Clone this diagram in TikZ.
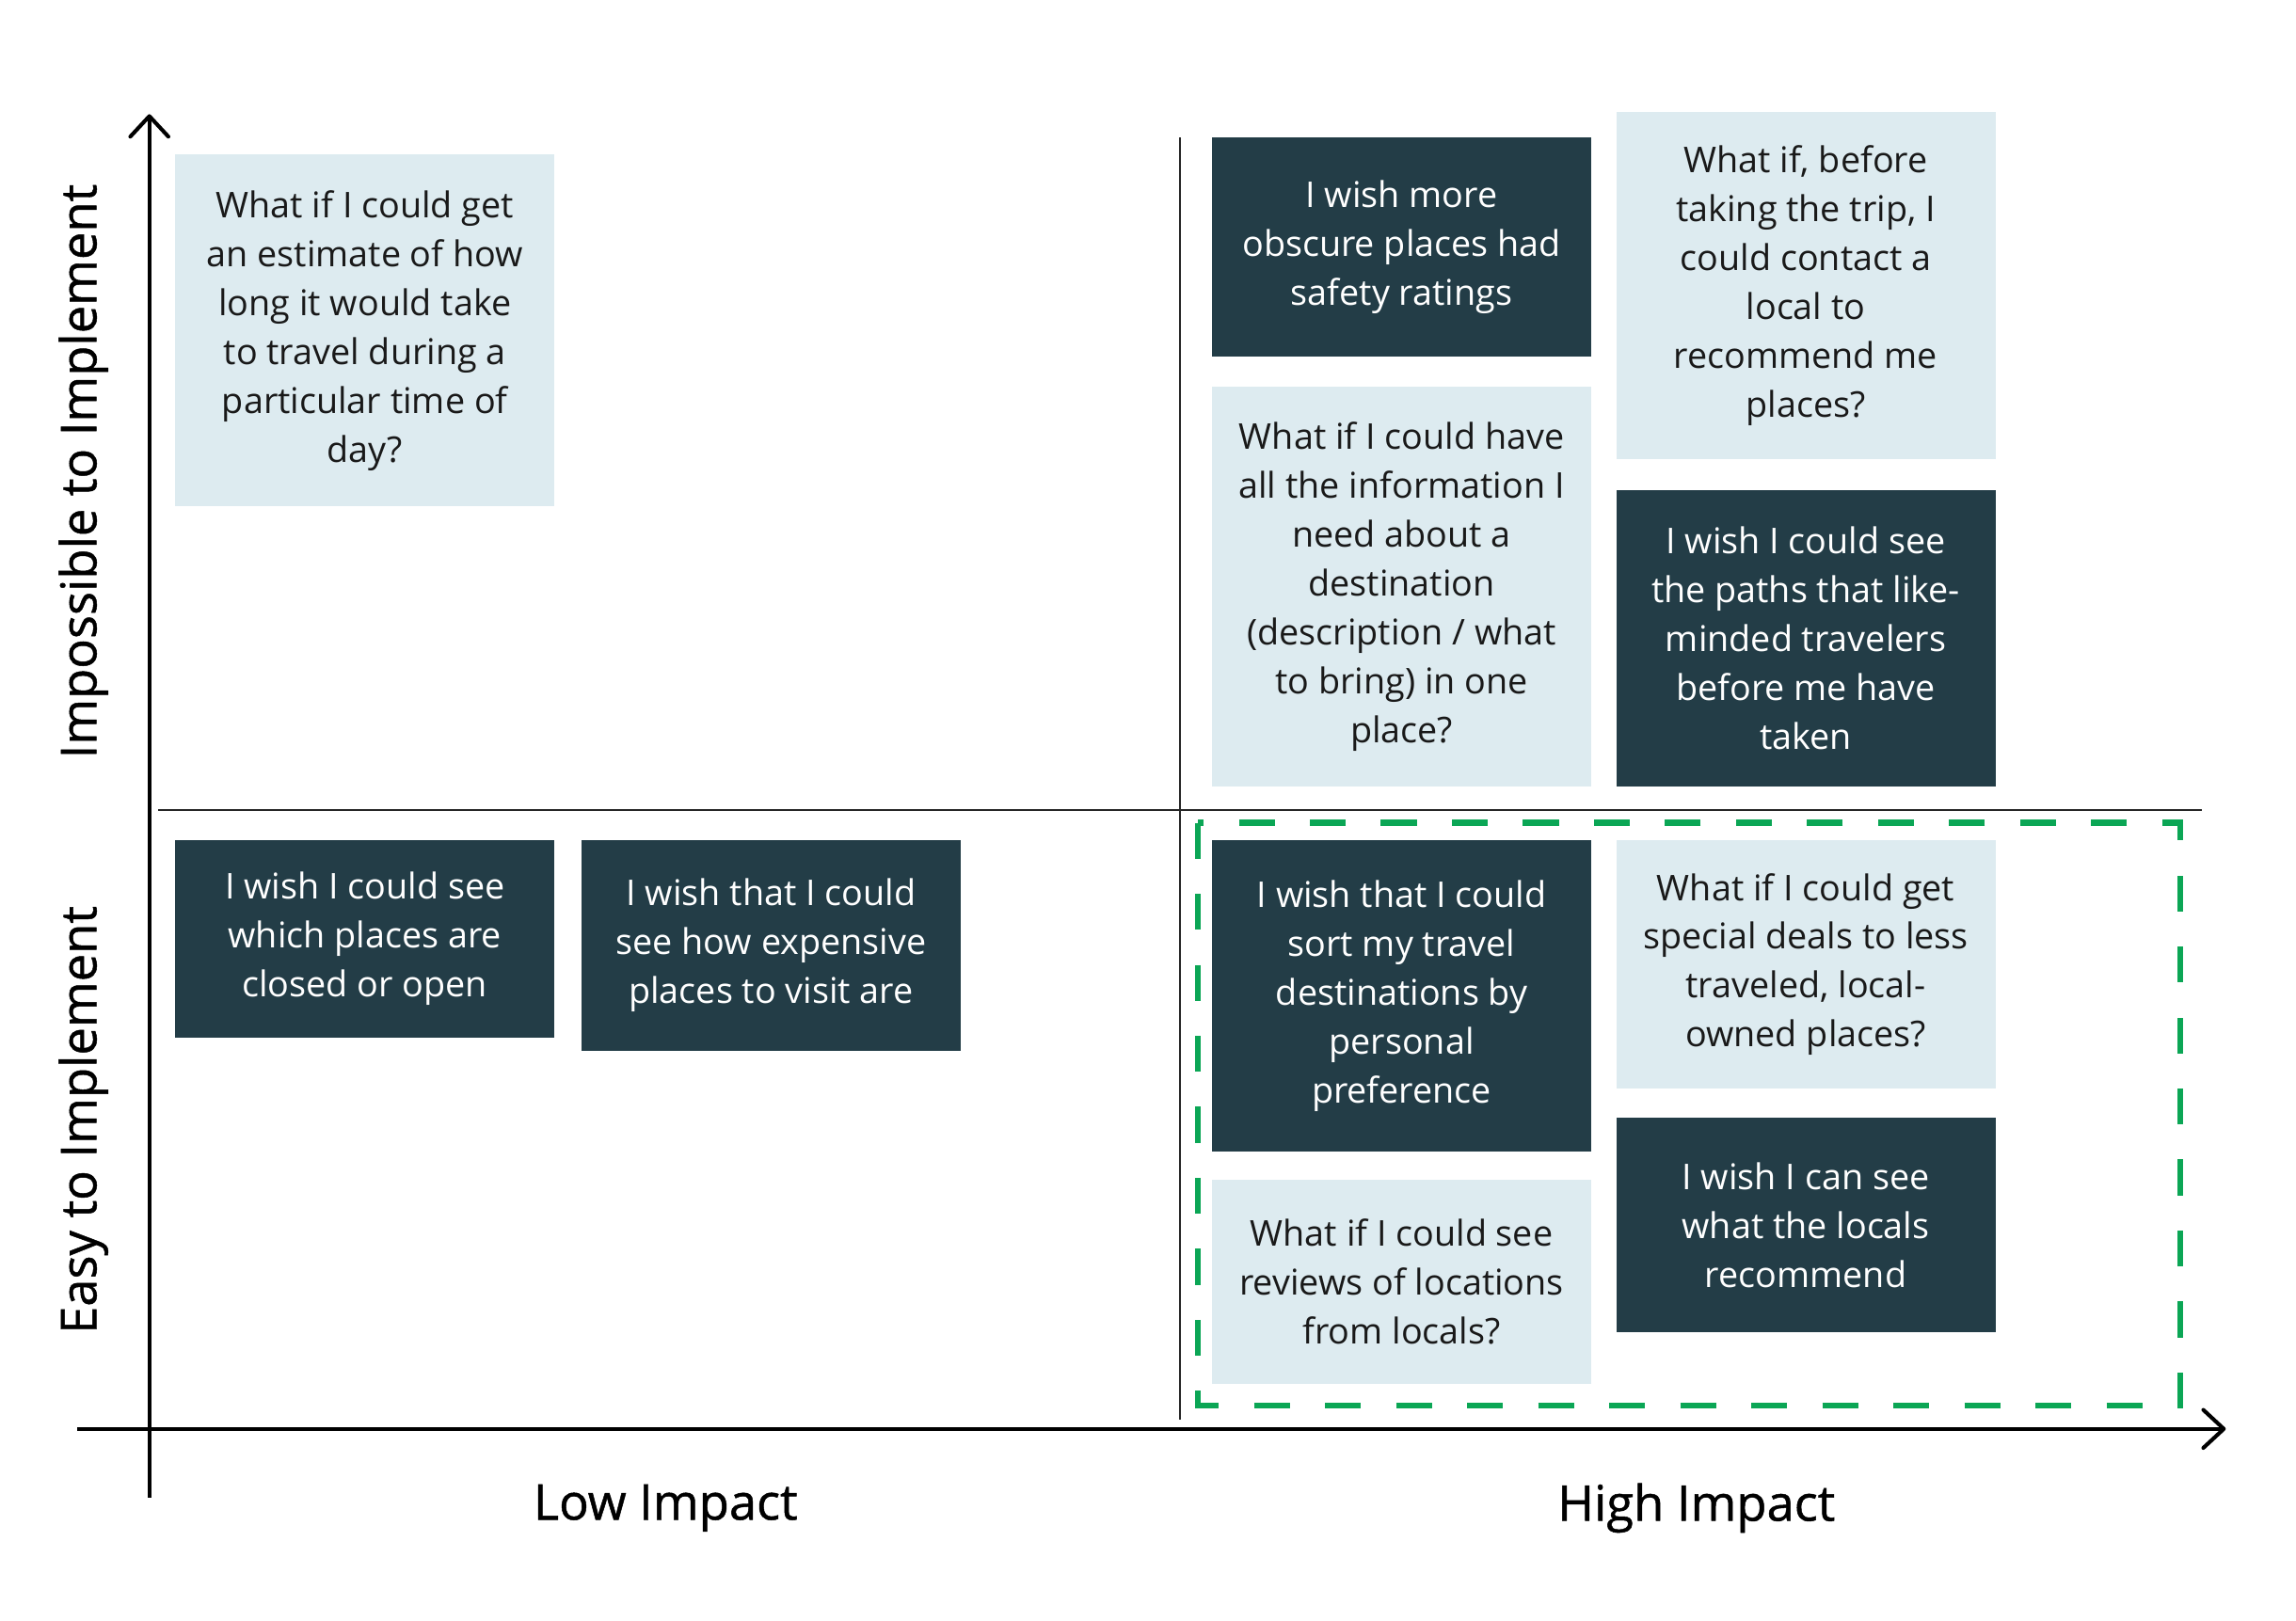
\documentclass[tikz,border=0pt]{standalone}
\usepackage{fontspec}
\setmainfont{Open Sans}
\newfontfamily\axisfont{Open Sans}[FakeBold=0.9]
\definecolor{darkslate}{RGB}{35, 61, 71}
\definecolor{paleblue}{RGB}{221, 235, 240}
\definecolor{pickgreen}{RGB}{11, 166, 85}
\usetikzlibrary{arrows.meta, positioning}

\begin{document}
\begin{tikzpicture}[
    node distance=0.18cm,
    idea/.style={rectangle, minimum width=2.59cm, inner sep=0pt, align=center, font=\fontsize{6.9}{9.5}\selectfont, anchor=north west},
    wish/.style={idea, fill=darkslate, text=white},
    whatif/.style={idea, fill=paleblue, text=black!90},
    axis/.style={line width=0.75pt, -{Straight Barb[length=1.4mm, width=2.6mm, round]}},
    divider/.style={line width=0.4pt, black!85},
    axlabel/.style={font=\axisfont\fontsize{9.6}{12}\selectfont},
  ]
  \useasboundingbox (0,0) rectangle (15.68,11.07);

  % axes
  \coordinate (ybot) at (1.02,0.84);
  \coordinate (ytop) at (1.02,10.29);
  \coordinate (xleft) at (0.53,1.31);
  \coordinate (xright) at (15.20,1.31);
  \draw[axis] (ybot) -- (ytop);
  \draw[axis] (xleft) -- (xright);

  % quadrant lines
  \coordinate (vtop) at (8.06,10.13);
  \coordinate (vbot) at (8.06,1.37);
  \coordinate (hleft) at (1.08,5.535);
  \coordinate (hright) at (15.04,5.535);
  \draw[divider] (vtop) -- (vbot);
  \draw[divider] (hleft) -- (hright);

  % picked area
  \draw[pickgreen, line width=1.2pt, dash pattern=on 0.245cm off 0.24cm] (8.18,5.45) rectangle (14.89,1.47);

  % impossible, low impact
  \node[whatif, minimum height=2.40cm] (estimate) at (1.19,10.02) {What if I could get\\an estimate of how\\long it would take\\to travel during a\\particular time of\\day?};

  % impossible, high impact
  \node[wish, minimum height=1.50cm] (safety) at (8.27,10.14) {I wish more\\obscure places had\\safety ratings};
  \node[whatif, minimum height=2.73cm, below=0.19cm of safety] (allinfo) {What if I could have\\all the information I\\need about a\\destination\\(description / what\\to bring) in one\\place?};
  \node[whatif, minimum height=2.37cm] (contact) at (11.03,10.31) {What if, before\\taking the trip, I\\could contact a\\local to\\recommend me\\places?};
  \node[wish, minimum height=2.02cm, below=0.20cm of contact] (paths) {I wish I could see\\the paths that like-\\minded travelers\\before me have\\taken};

  % easy, low impact
  \node[wish, minimum height=1.35cm] (openclosed) at (1.19,5.34) {I wish I could see\\which places are\\closed or open};
  \node[wish, minimum height=1.44cm, right=0.17cm of openclosed.north east, anchor=north west] (expensive) {I wish that I could\\see how expensive\\places to visit are};

  % easy, high impact
  \node[wish, minimum height=2.13cm] (sort) at (8.27,5.34) {I wish that I could\\sort my travel\\destinations by\\personal\\preference};
  \node[whatif, minimum height=1.39cm, below=of sort] (reviews) {What if I could see\\reviews of locations\\from locals?};
  \node[whatif, minimum height=1.70cm] (deals) at (11.03,5.34) {What if I could get\\special deals to less\\traveled, local-\\owned places?};
  \node[wish, minimum height=1.47cm, below=of deals] (locals) {I wish I can see\\what the locals\\recommend};

  % axis labels
  \node[axlabel, rotate=90] (hard) at (0.57,7.85) {Impossible to Implement};
  \node[axlabel, rotate=90] (easy) at (0.57,3.42) {Easy to Implement};
  \node[axlabel] (low) at (4.545,0.77) {Low Impact};
  \node[axlabel] (high) at (11.585,0.77) {High Impact};
\end{tikzpicture}
\end{document}
